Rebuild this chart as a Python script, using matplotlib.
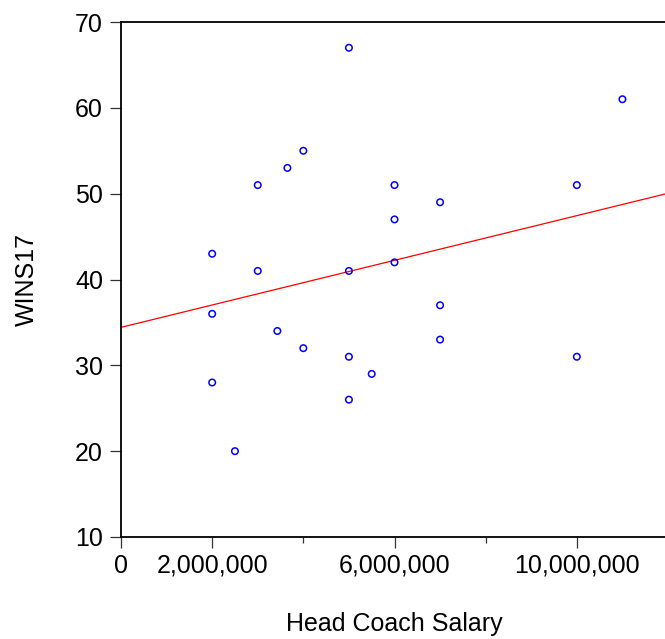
import numpy as np
import matplotlib.pyplot as plt
from matplotlib.ticker import FixedLocator, FuncFormatter

# head coach salary (USD) and wins in 2017
salary = [2.0e6, 2.0e6, 2.0e6, 2.5e6, 3.0e6, 3.0e6, 3.43e6, 3.65e6,
          4.0e6, 4.0e6, 5.0e6, 5.0e6, 5.0e6, 5.0e6, 5.5e6, 6.0e6,
          6.0e6, 6.0e6, 7.0e6, 7.0e6, 7.0e6, 10.0e6, 10.0e6, 11.0e6]
wins17 = [43, 36, 28, 20, 51, 41, 34, 53,
          55, 32, 67, 41, 31, 26, 29, 51,
          47, 42, 49, 37, 33, 51, 31, 61]

x_major = [0, 2e6, 6e6, 10e6]
x_minor = [4e6, 8e6]
y_ticks = [10, 20, 30, 40, 50, 60, 70]

plt.rcParams["font.family"] = ["Liberation Sans", "DejaVu Sans"]

fig = plt.figure(figsize=(6.65, 6.39), dpi=100)
ax = fig.add_axes([121 / 665, 102 / 639, 547 / 665, 515 / 639])

x = np.array(salary)
y = np.array(wins17)
ax.scatter(x, y, s=22, facecolors="none", edgecolors="#0000ff",
           linewidths=1.1, zorder=3)

# OLS fit line
slope, icept = np.polyfit(x, y, 1)
xl = np.array([0, 12e6])
ax.plot(xl, icept + slope * xl, color="#ff0000", lw=0.9, zorder=2)

ax.set_xlim(0, 12e6)
ax.set_ylim(10, 70)

ax.xaxis.set_major_locator(FixedLocator(x_major))
ax.xaxis.set_minor_locator(FixedLocator(x_minor))
ax.xaxis.set_major_formatter(FuncFormatter(lambda v, p: f"{v:,.0f}"))
ax.set_yticks(y_ticks)

ax.tick_params(axis="both", which="major", direction="out", length=8,
               width=0.9, labelsize=18, color="#333333")
ax.tick_params(axis="x", which="major", pad=4)
ax.tick_params(axis="y", which="major", pad=5)
ax.tick_params(axis="x", which="minor", direction="out", length=4,
               width=0.9, color="#333333")

for side in ("left", "bottom", "top"):
    ax.spines[side].set_linewidth(1.3)
ax.spines["right"].set_visible(False)

ax.set_xlabel("Head Coach Salary", fontsize=18, labelpad=25)
ax.set_ylabel("WINS17", fontsize=18, labelpad=26)

fig.savefig("out.png", dpi=100)
